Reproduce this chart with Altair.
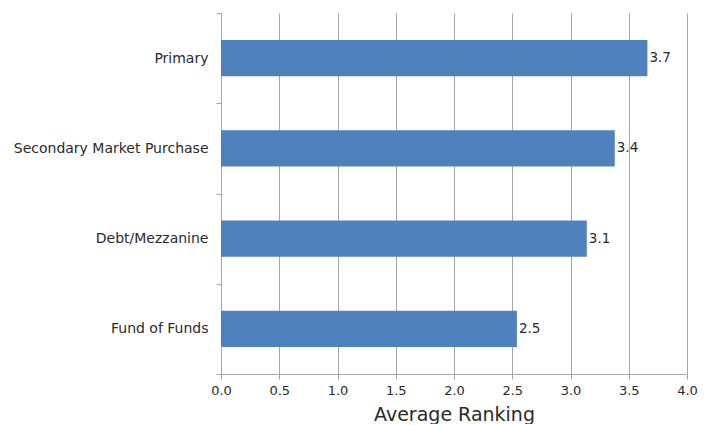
import altair as alt
import pandas as pd

categories = ["Primary", "Secondary Market Purchase", "Debt/Mezzanine", "Fund of Funds"]
values = [3.66, 3.38, 3.14, 2.54]
x_ticks = [0, 0.5, 1.0, 1.5, 2.0, 2.5, 3.0, 3.5, 4.0]

df = pd.DataFrame({"category": categories, "value": values})

FONT = "DejaVu Sans"
GRAY = "#a6a6a6"
TXT = "#2a2a2a"

y_enc = alt.Y(
    "category:N",
    sort=categories,
    title=None,
    scale=alt.Scale(paddingInner=0, paddingOuter=0),
    axis=alt.Axis(
        tickBand="extent",
        tickSize=5,
        tickColor=GRAY,
        domainColor=GRAY,
        labelFont=FONT,
        labelFontSize=14,
        labelColor=TXT,
        labelPadding=8,
        labelLimit=400,
        grid=False,
    ),
)

x_enc = alt.X(
    "value:Q",
    title="Average Ranking",
    scale=alt.Scale(domain=[0, 4], nice=False),
    axis=alt.Axis(
        values=x_ticks,
        format=".1f",
        grid=True,
        gridColor=GRAY,
        gridOpacity=1,
        tickSize=5,
        tickColor=GRAY,
        domainColor=GRAY,
        labelFont=FONT,
        labelFontSize=13,
        labelColor=TXT,
        labelPadding=5,
        labelFlush=False,
        titleFont=FONT,
        titleFontSize=19,
        titleFontWeight="normal",
        titleColor=TXT,
        titlePadding=8,
    ),
)

bars = alt.Chart(df).mark_bar(
    color="#4F81BD", height=alt.RelativeBandSize(0.4)
).encode(x=x_enc, y=y_enc)

text = alt.Chart(df).mark_text(
    align="left", baseline="middle", dx=2, font=FONT, fontSize=13.5, color=TXT
).encode(
    x=alt.X("value:Q"),
    y=alt.Y("category:N", sort=categories),
    text=alt.Text("value:Q", format=".1f"),
)

chart = (
    (bars + text)
    .properties(
        width=466,
        height=361,
        padding={"left": 5, "top": -2, "right": 5, "bottom": 0},
    )
    .configure_view(stroke=None)
)

chart.save("out.html", embed_options={"renderer": "svg", "actions": False})
